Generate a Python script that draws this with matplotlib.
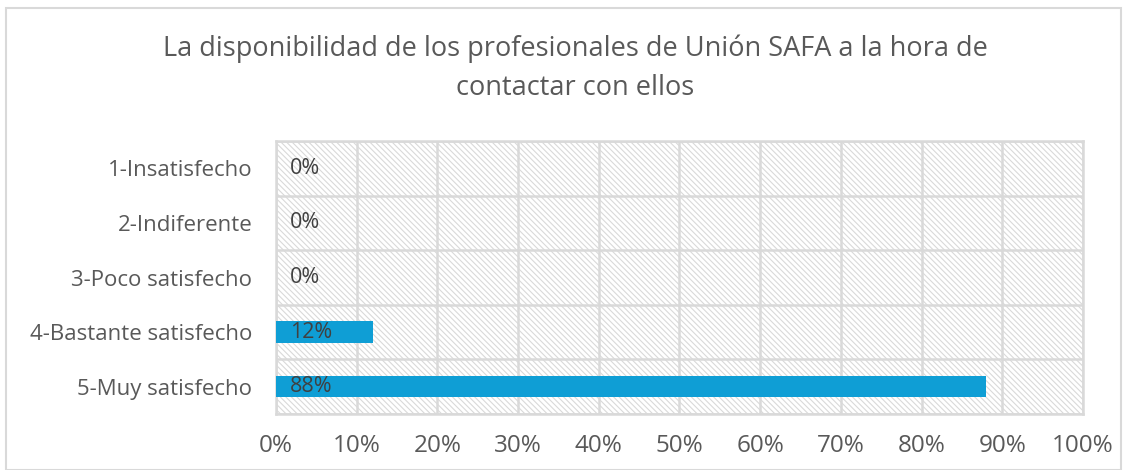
import numpy as np
import matplotlib.pyplot as plt
from matplotlib.patches import Rectangle

plt.rcParams['font.family'] = ['Open Sans', 'DejaVu Sans']
plt.rcParams['hatch.color'] = '#d9d9d9'
plt.rcParams['hatch.linewidth'] = 0.8

categories = ['1-Insatisfecho', '2-Indiferente', '3-Poco satisfecho',
              '4-Bastante satisfecho', '5-Muy satisfecho']
values = [0, 0, 0, 12, 88]
xticks = np.arange(0, 101, 10)

title = 'La disponibilidad de los profesionales de Unión SAFA a la hora de\ncontactar con ellos'
grid_col = '#d9d9d9'
txt_col = '#595959'

fig = plt.figure(figsize=(11.32, 4.70), dpi=100)
fig.patches.append(Rectangle((0.005, 0.0), 0.985, 0.982, transform=fig.transFigure,
                             fill=False, edgecolor='#d9d9d9', linewidth=1.5))
ax = fig.add_axes([0.2438, 0.119, 0.7129, 0.581])

y = np.arange(len(categories))
ax.set_xlim(0, 100)
ax.set_ylim(len(categories) - 0.5, -0.5)

# fondo rayado
ax.add_patch(Rectangle((0, -0.5), 100, len(categories), facecolor='white',
                       hatch='\\' * 6, edgecolor='#d9d9d9', linewidth=0, zorder=0))

ax.barh(y, values, height=0.39, color='#0f9ed5', zorder=3)
for yi, v in zip(y, values):
    ax.annotate(f'{v}%', (0, yi), xytext=(10, 0), textcoords='offset points',
                ha='left', va='center', fontsize=15.5, color='#404040', zorder=4)

ax.set_xticks(xticks)
ax.set_xticklabels([f'{t}%' for t in xticks])
ax.set_yticks(y)
ax.set_yticklabels(categories)
ax.set_yticks(np.arange(-0.5, len(categories), 1), minor=True)
ax.tick_params(axis='both', which='both', length=0, colors=txt_col)
ax.tick_params(axis='x', pad=14, labelsize=17.5)
ax.tick_params(axis='y', pad=17, labelsize=16)
ax.grid(axis='x', which='major', color=grid_col, linewidth=1.8, zorder=1)
ax.grid(axis='y', which='minor', color=grid_col, linewidth=1.8, zorder=1)
ax.set_axisbelow(True)
for s in ax.spines.values():
    s.set_color(grid_col)
    s.set_linewidth(1.8)

fig.text(0.508, 0.855, title, ha='center', va='center', fontsize=19.5,
         color=txt_col, linespacing=1.5)

fig.savefig('out.png', dpi=100)
